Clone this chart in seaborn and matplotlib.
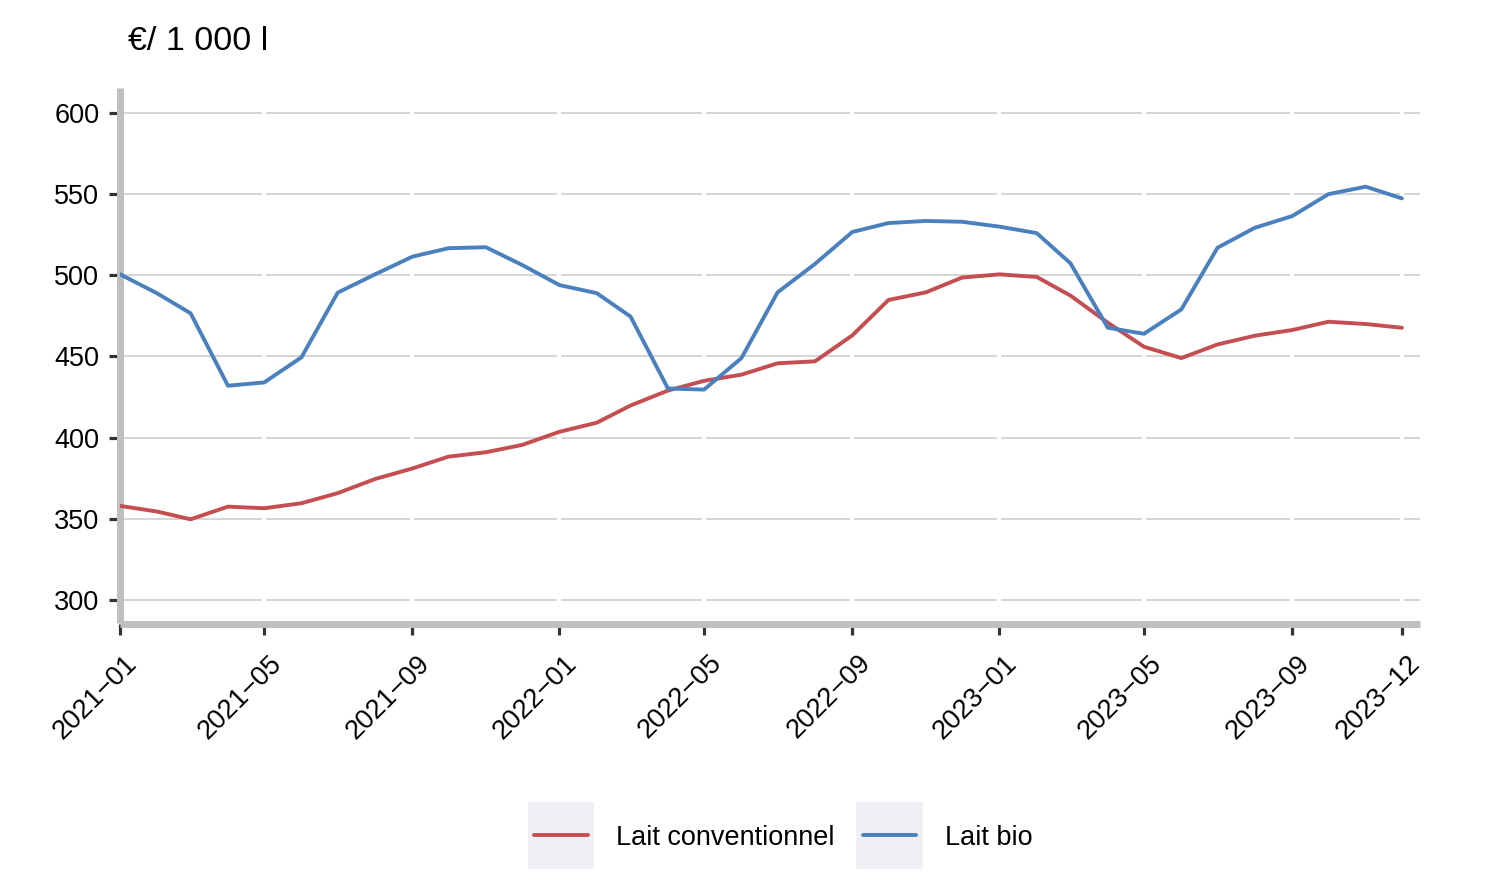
import pandas as pd
import matplotlib
matplotlib.use("Agg")
import matplotlib.pyplot as plt
import matplotlib.transforms as mtransforms
from matplotlib.legend_handler import HandlerBase
from matplotlib.lines import Line2D
from matplotlib.patches import Rectangle
import seaborn as sns

# monthly milk prices, euros per 1000 litres
months = ['2021-01', '2021-02', '2021-03', '2021-04', '2021-05', '2021-06',
          '2021-07', '2021-08', '2021-09', '2021-10', '2021-11', '2021-12',
          '2022-01', '2022-02', '2022-03', '2022-04', '2022-05', '2022-06',
          '2022-07', '2022-08', '2022-09', '2022-10', '2022-11', '2022-12',
          '2023-01', '2023-02', '2023-03', '2023-04', '2023-05', '2023-06',
          '2023-07', '2023-08', '2023-09', '2023-10', '2023-11', '2023-12']
conventionnel = [358, 354.5, 349.7, 357.5, 356.5, 359.6, 365.8, 374.5, 381, 388.3, 391, 395.5,
                 403.6, 409.2, 419.8, 429, 435, 438.8, 445.8, 447, 463, 484.8, 489.5, 498.6,
                 500.6, 499, 487.5, 470.8, 456, 449, 457.4, 462.8, 466.3, 471.4, 470, 467.7]
bio = [500.8, 489, 476.6, 432, 434, 449.5, 489.3, 500.6, 511.5, 516.7, 517.3, 506.4,
       494, 489, 474.6, 430.3, 429.6, 449, 489.5, 507, 526.7, 532.2, 533.5, 533,
       530, 526, 507.4, 467.7, 464, 479, 517, 529.3, 536.5, 550, 554.6, 547.4]
series_names = ['Lait conventionnel', 'Lait bio']
series_colors = ['#c44e52', '#4b80bf']
tick_months = ['2021-01', '2021-05', '2021-09', '2022-01', '2022-05', '2022-09',
               '2023-01', '2023-05', '2023-09', '2023-12']
y_ticks = [300, 350, 400, 450, 500, 550, 600]
unit_label = '€/ 1 000 l'

df = pd.DataFrame({
    'date': pd.to_datetime(months * 2),
    'prix': conventionnel + bio,
    'type': [series_names[0]] * len(months) + [series_names[1]] * len(months),
})

sns.set_style('white')
plt.rcParams['font.family'] = ['Liberation Sans', 'DejaVu Sans']
plt.rcParams['text.color'] = 'black'

fig = plt.figure(figsize=(14.94, 8.96), dpi=100)
ax = fig.add_axes([119.5 / 1494, 1 - 623.5 / 896, (1420 - 119.5) / 1494, (623.5 - 88) / 896])

sns.lineplot(data=df, x='date', y='prix', hue='type', hue_order=series_names,
             palette=dict(zip(series_names, series_colors)), linewidth=2.8, ax=ax, zorder=3)

tick_dates = pd.to_datetime(tick_months)
ax.set_xlim(pd.Timestamp('2021-01-01'), pd.Timestamp('2023-12-16'))
ax.set_ylim(285.5, 615.4)
ax.set_yticks(y_ticks)
ax.set_yticklabels([str(v) for v in y_ticks], fontsize=19.5)
ax.set_xticks(tick_dates)
ax.set_xticklabels([m.replace('-', '\u2212') for m in tick_months], fontsize=19.5,
                   rotation=45, ha='right', va='center', rotation_mode='anchor')
ax.set_xlabel('')
ax.set_ylabel('')

# horizontal grid, broken by white bands at the x ticks
ax.grid(axis='y', color='#d2d2d2', linewidth=1.3)
ax.set_axisbelow(True)
for d in tick_dates:
    ax.axvline(d, color='white', linewidth=3, zorder=1.9)

for side in ['top', 'right']:
    ax.spines[side].set_visible(False)
for side in ['left', 'bottom']:
    ax.spines[side].set_color('#bfbfbf')
    ax.spines[side].set_linewidth(5)
    ax.spines[side].set_capstyle('butt')
ax.tick_params(axis='both', direction='out', length=8, width=2.3, color='#333333',
               labelcolor='black', bottom=True, left=True)
ax.tick_params(axis='y', pad=6.5)
ax.tick_params(axis='x', pad=20)

# nudge the rotated date labels (after tick_params, which resets transforms)
shift = mtransforms.ScaledTranslation(0.14, 0.03, fig.dpi_scale_trans)
for lab in ax.get_xticklabels():
    lab.set_transform(lab.get_transform() + shift)

fig.text(128 / 1494, 1 - 41 / 896, unit_label, fontsize=24.5, va='center', ha='left',
         color='black')


class KeyHandler(HandlerBase):
    def create_artists(self, legend, orig_handle, xdescent, ydescent, width, height,
                       fontsize, trans):
        cy = 0.36 * fontsize
        half = 24.1
        bg = Rectangle((-xdescent, cy - half), width, 2 * half, facecolor='#f1eff3',
                       edgecolor='none', transform=trans)
        pad = 0.1 * width
        ln = Line2D([-xdescent + pad, -xdescent + width - pad], [cy, cy],
                    color=orig_handle.get_color(), linewidth=orig_handle.get_linewidth(),
                    transform=trans)
        return [bg, ln]


handles, labels = ax.get_legend_handles_labels()
if ax.get_legend() is not None:
    ax.get_legend().remove()
leg = fig.legend(handles, labels, handler_map={Line2D: KeyHandler()}, loc='center',
                 bbox_to_anchor=(780 / 1494, 1 - 838 / 896), ncol=2, frameon=False,
                 fontsize=19.5, handlelength=2.47, handletextpad=0.8,
                 columnspacing=0.8, borderpad=0)
for t in leg.get_texts():
    t.set_color('black')

fig.savefig('out.png', dpi=100, facecolor='white')
